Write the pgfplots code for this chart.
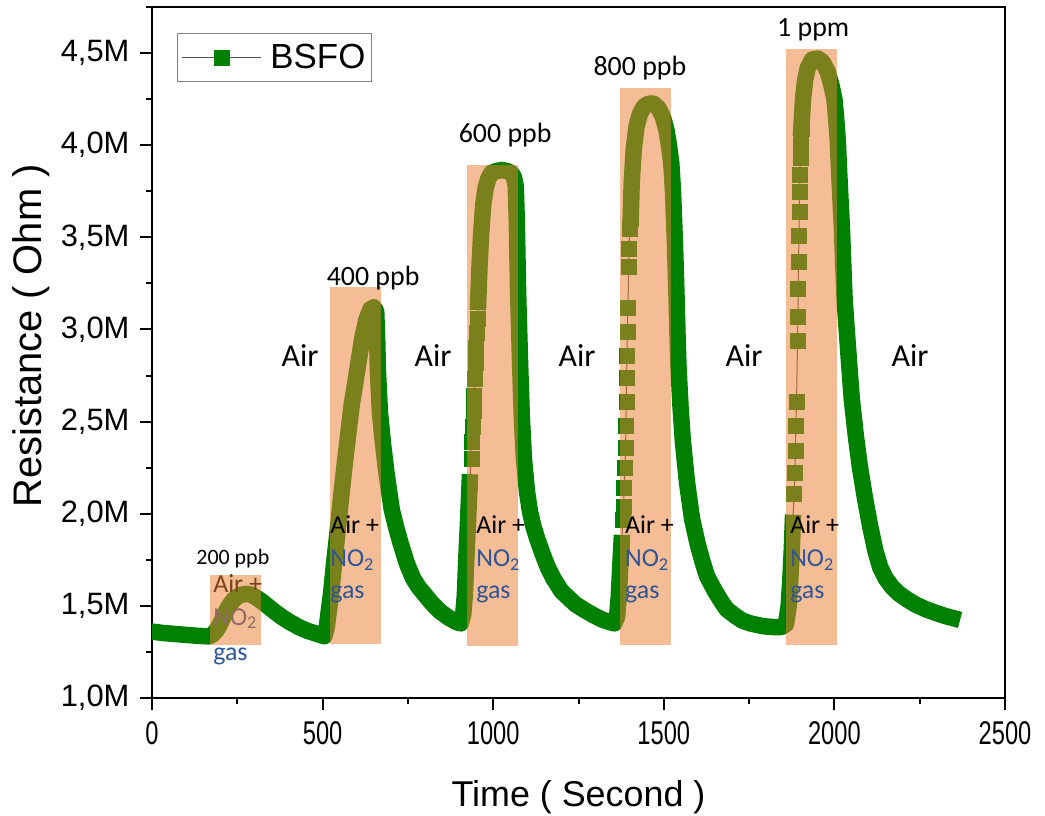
\documentclass[border=0pt]{standalone}
\usepackage{fontspec}
\setmainfont{Liberation Sans}
\newfontfamily\calibri{Carlito}
\usepackage{graphicx}
\usepackage{pgfplots}
\pgfplotsset{compat=1.18}
\definecolor{bgreen}{RGB}{0,128,0}
\definecolor{rectc}{RGB}{235,128,53}
\definecolor{noblue}{RGB}{47,85,151}
\definecolor{lgray}{RGB}{80,80,80}
\tikzset{airp/.style={anchor=base west, inner sep=0pt, font=\calibri\fontsize{26}{28}\selectfont},
  nob/.style={airp, text=noblue},
  ppb/.style={anchor=base, inner sep=0pt, font=\calibri\fontsize{28}{30}\selectfont},
  airl/.style={anchor=center, inner sep=0pt, font=\calibri\fontsize{32}{34}\selectfont}}
\begin{document}
\begin{tikzpicture}[x=1bp,y=1bp]
\useasboundingbox (-152,-118) rectangle (893,698);
\begin{axis}[
  at={(0,0)}, anchor=south west,
  scale only axis, width=853bp, height=691bp,
  xmin=0, xmax=2500, ymin=1, ymax=4.75,
  clip marker paths=true,
  xtick={0,500,1000,1500,2000,2500},
  xticklabels={\scalebox{0.72}[1]{0},\scalebox{0.72}[1]{500},\scalebox{0.72}[1]{1000},\scalebox{0.72}[1]{1500},\scalebox{0.72}[1]{2000},\scalebox{0.72}[1]{2500}},
  minor xtick={250,750,1250,1750,2250},
  ytick={1,1.5,2,2.5,3,3.5,4,4.5},
  yticklabels={{1,0M},{1,5M},{2,0M},{2,5M},{3,0M},{3,5M},{4,0M},{4,5M}},
  minor ytick={1.25,1.75,2.25,2.75,3.25,3.75,4.25,4.75},
  tick pos=left, tick align=outside,
  major tick length=12bp, minor tick length=6bp,
  tick style={black, line width=2bp},
  axis line style={line width=2bp},
  yticklabel style={font=\fontsize{31}{32}\selectfont, xshift=-7bp},
  xticklabel style={font=\fontsize{33}{34}\selectfont, yshift=-8bp},
  every axis x label/.style={at={(axis description cs:0.5,0)}, anchor=base, yshift=-108bp, font=\fontsize{36}{40}\selectfont},
  every axis y label/.style={at={(axis description cs:-0.129,0.524)}, rotate=90, anchor=base, font=\fontsize{40}{44}\selectfont},
  xlabel={Time ( Second )},
  ylabel={Resistance ( Ohm )},
  legend style={at={(axis description cs:0.0293,0.9624)}, anchor=north west, draw=gray, line width=1bp, font=\fontsize{35}{40}\selectfont, inner xsep=4bp, inner ysep=9bp},
  legend image code/.code={\draw[mark repeat=2,mark phase=2,#1] plot coordinates {(0bp,0bp) (39.5bp,0bp) (79bp,0bp)};},
]
% continuous band parts
\addplot[forget plot, draw=bgreen, line width=16.5bp, line join=round, line cap=rect, no markers] coordinates {
(0,1.360) (15,1.357) (30,1.353) (50,1.350) (70,1.347) (90,1.344) (110,1.341) (130,1.338) (150,1.336) (168,1.334)
(178,1.345) (188,1.365) (198,1.395) (208,1.435) (218,1.475) (228,1.505) (238,1.530) (250,1.550) (262,1.560) (275,1.565)
(288,1.562) (300,1.552) (312,1.537) (325,1.520) (340,1.497) (360,1.468) (380,1.440) (404,1.412) (430,1.385) (455,1.365)
(480,1.350) (505,1.335) (512,1.380) (518,1.470) (525,1.570) (533,1.720) (542,1.870) (552,2.050) (563,2.240) (575,2.430)
(586,2.600) (595,2.700) (605,2.820) (616,2.950) (628,3.050) (640,3.110) (650,3.120) (657,3.100) (660,2.950) (662,2.780)
(668,2.550) (677,2.380) (686,2.240) (695,2.120) (703,2.020) (715,1.930) (727,1.850) (747,1.730) (765,1.650) (782,1.600)
(800,1.560) (820,1.515) (844,1.470) (870,1.435) (895,1.410) (905,1.405) (912,1.450) (917,1.560) (921,1.750) (926,1.950)
(931,2.170)};
\addplot[forget plot, draw=bgreen, line width=16.5bp, line join=round, line cap=rect, no markers] coordinates {
(956,3.150) (960,3.350) (965,3.530) (971,3.680) (978,3.770) (986,3.820) (995,3.850) (1010,3.860) (1025,3.865) (1040,3.860)
(1052,3.850) (1060,3.830) (1066,3.780) (1069,3.600) (1071,3.400) (1073,3.200) (1076,3.000) (1079,2.800) (1084,2.520) (1090,2.300)
(1099,2.120) (1108,2.010) (1118,1.930) (1128,1.870) (1145,1.780) (1160,1.710) (1176,1.650) (1200,1.580) (1220,1.545) (1240,1.510)
(1265,1.480) (1293,1.450) (1320,1.425) (1345,1.410) (1355,1.405) (1363,1.440) (1368,1.550) (1372,1.700) (1376,1.840)};
\addplot[forget plot, draw=bgreen, line width=16.5bp, line join=round, line cap=rect, no markers] coordinates {
(1403,3.600) (1406,3.800) (1412,3.980) (1420,4.100) (1430,4.170) (1442,4.210) (1455,4.225) (1470,4.225) (1485,4.200) (1498,4.150)
(1508,4.080) (1515,4.000) (1522,3.900) (1527,3.750) (1530,3.600) (1533,3.450) (1537,3.200) (1540,2.980) (1543,2.800) (1549,2.580)
(1556,2.390) (1568,2.170) (1583,1.970) (1600,1.830) (1615,1.730) (1627,1.660) (1650,1.580) (1670,1.520) (1685,1.480) (1710,1.445)
(1730,1.420) (1753,1.405) (1790,1.390) (1820,1.385) (1845,1.385) (1858,1.400) (1866,1.500) (1871,1.650) (1875,1.800) (1878,1.950)};
\addplot[forget plot, draw=bgreen, line width=16.5bp, line join=round, line cap=rect, no markers] coordinates {
(1903,4.090) (1908,4.250) (1914,4.350) (1922,4.420) (1935,4.465) (1952,4.470) (1966,4.450) (1980,4.400) (1992,4.320) (2000,4.250)
(2005,4.150) (2010,4.020) (2014,3.850) (2018,3.700) (2022,3.550) (2026,3.350) (2030,3.160) (2036,3.000) (2043,2.820) (2051,2.620)
(2063,2.420) (2075,2.250) (2090,2.080) (2105,1.930) (2120,1.800) (2134,1.710) (2150,1.650) (2170,1.600) (2190,1.565) (2213,1.535)
(2240,1.505) (2270,1.480) (2300,1.460) (2325,1.445) (2345,1.435)};
% discrete markers in the fast rises
\addplot[draw=lgray, line width=1bp, mark=square*, mark size=7.5bp, mark options={fill=bgreen, draw=bgreen, line width=0.5bp}] coordinates {
(931,2.170) (936,2.300) (938,2.390) (940,2.470) (942,2.560) (944,2.640) (946,2.730) (948,2.820) (950,2.900) (952,2.980) (954,3.060) (956,3.150)};
\addlegendentry{\hspace{7bp}BSFO}
\addplot[forget plot, draw=lgray, line width=1bp, mark=square*, mark size=7.5bp, mark options={fill=bgreen, draw=bgreen, line width=0.5bp}] coordinates {
(1376,1.840) (1380,1.970) (1382,2.040) (1384,2.140) (1386,2.250) (1388,2.360) (1389,2.480) (1390,2.610) (1391,2.740) (1392,2.860) (1393,2.990) (1395,3.120) (1397,3.340) (1398,3.440) (1400,3.545) (1403,3.600)};
\addplot[forget plot, draw=lgray, line width=1bp, mark=square*, mark size=7.5bp, mark options={fill=bgreen, draw=bgreen, line width=0.5bp}] coordinates {
(1878,1.950) (1882,2.110) (1884,2.220) (1886,2.340) (1887,2.480) (1889,2.610) (1892,2.940) (1893,3.070) (1894,3.220) (1895,3.370) (1896,3.510) (1897,3.640) (1898,3.745) (1899,3.840) (1900,3.930) (1901,4.000) (1903,4.090)};
% first pulse labels (under its box)
\node[airp] at (axis cs:179,1.570) {Air +};
\node[nob] at (axis cs:179,1.396) {NO\textsubscript{2}};
\node[nob] at (axis cs:179,1.206) {gas};
% gas exposure boxes
\addplot[forget plot, fill=rectc, fill opacity=0.52, draw=none] coordinates {(170,1.288) (320,1.288) (320,1.667) (170,1.667)} -- cycle;
\addplot[forget plot, fill=rectc, fill opacity=0.52, draw=none] coordinates {(522,1.295) (670,1.295) (670,3.230) (522,3.230)} -- cycle;
\addplot[forget plot, fill=rectc, fill opacity=0.52, draw=none] coordinates {(923,1.282) (1073,1.282) (1073,3.890) (923,3.890)} -- cycle;
\addplot[forget plot, fill=rectc, fill opacity=0.52, draw=none] coordinates {(1372,1.290) (1521,1.290) (1521,4.310) (1372,4.310)} -- cycle;
\addplot[forget plot, fill=rectc, fill opacity=0.52, draw=none] coordinates {(1858,1.288) (2008,1.288) (2008,4.520) (1858,4.520)} -- cycle;
% labels over boxes
\node[airp] at (axis cs:522,1.893) {Air +};
\node[nob] at (axis cs:522,1.711) {NO\textsubscript{2}};
\node[nob] at (axis cs:522,1.540) {gas};
\node[airp] at (axis cs:950,1.893) {Air +};
\node[nob] at (axis cs:950,1.711) {NO\textsubscript{2}};
\node[nob] at (axis cs:950,1.540) {gas};
\node[airp] at (axis cs:1386,1.893) {Air +};
\node[nob] at (axis cs:1386,1.711) {NO\textsubscript{2}};
\node[nob] at (axis cs:1386,1.540) {gas};
\node[airp] at (axis cs:1870,1.893) {Air +};
\node[nob] at (axis cs:1870,1.711) {NO\textsubscript{2}};
\node[nob] at (axis cs:1870,1.540) {gas};
\node[ppb, font=\calibri\fontsize{22}{24}\selectfont] at (axis cs:237,1.727) {200 ppb};
\node[ppb] at (axis cs:648,3.241) {400 ppb};
\node[ppb] at (axis cs:1035,4.012) {600 ppb};
\node[ppb] at (axis cs:1430,4.380) {800 ppb};
\node[ppb] at (axis cs:1938,4.592) {1 ppm};
\node[airl] at (axis cs:434,2.861) {Air};
\node[airl] at (axis cs:824,2.861) {Air};
\node[airl] at (axis cs:1246,2.861) {Air};
\node[airl] at (axis cs:1735,2.861) {Air};
\node[airl] at (axis cs:2222,2.861) {Air};
\end{axis}
\end{tikzpicture}
\end{document}
